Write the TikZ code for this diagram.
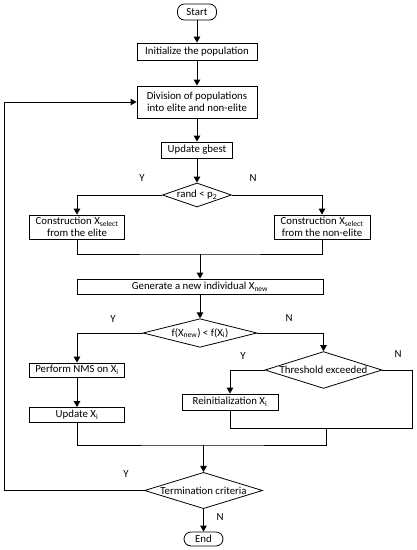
\documentclass[tikz,border=0pt]{standalone}
\usepackage{fontspec}
\setmainfont{Carlito}
\usetikzlibrary{shapes.geometric,arrows.meta}
\begin{document}
\begin{tikzpicture}[x=1pt,y=-1pt,line width=0.9pt,
  txt/.style={font=\fontsize{10.8}{12.5}\selectfont},
  box/.style={txt,draw,rectangle,inner sep=0pt,align=center,line width=0.8pt},
  term/.style={box,rounded corners=7pt},
  dia/.style={txt,draw,diamond,inner sep=0pt,aspect=3,line width=0.8pt},
  arr/.style={-{Triangle[length=6pt,width=6.5pt]}},
  lbl/.style={txt}]
\useasboundingbox (0,0) rectangle (417,550);
\node[term,minimum width=39,minimum height=16] (start) at (197,12) {Start};
\node[box,minimum width=120,minimum height=17] (init) at (197,51.5) {Initialize the population};
\node[box,minimum width=120,minimum height=32] (div) at (197,102) {Division of populations\\into elite and non-elite};
\node[box,minimum width=71,minimum height=16] (gb) at (197,150) {Update gbest};
\node[dia,minimum width=69,minimum height=24] (rand) at (197,195) {rand < p\textsubscript{2}};
\node[box,minimum width=95,minimum height=24] (cl) at (77,227) {Construction X\textsubscript{select}\\from the elite};
\node[box,minimum width=96,minimum height=24] (cr) at (322,227) {Construction X\textsubscript{select}\\from the non-elite};
\coordinate (m1) at (200,254);
\node[box,minimum width=246,minimum height=15] (gen) at (200,286.5) {Generate a new individual X\textsubscript{new}};
\node[dia,minimum width=114,minimum height=24] (fx) at (200,333) {f(X\textsubscript{new}) < f(X\textsubscript{i})};
\node[box,minimum width=95,minimum height=14] (nms) at (77,370) {Perform NMS on X\textsubscript{i}};
\node[box,minimum width=95,minimum height=15] (upd) at (77,415) {Update X\textsubscript{i}};
\node[dia,minimum width=117,minimum height=34] (thr) at (323.5,370) {Threshold exceeded};
\node[box,minimum width=96,minimum height=16] (re) at (230,402) {Reinitialization X\textsubscript{i}};
\coordinate (rc) at (412,428);
\coordinate (m2) at (326,428);
\coordinate (m3) at (203.5,445);
\node[dia,minimum width=118,minimum height=33] (tc) at (203.5,490.5) {Termination criteria};
\node[term,minimum width=39,minimum height=14] (end) at (203.5,539) {End};
\coordinate (lp) at (4,490.5);
% labels
\node[lbl] (y1) at (142,178) {Y};
\node[lbl] (n1) at (253,178) {N};
\node[lbl] (y2) at (113,319) {Y};
\node[lbl] (n2) at (289,318) {N};
\node[lbl] (y3) at (243,356) {Y};
\node[lbl] (n3) at (398,354) {N};
\node[lbl] (y4) at (126,474) {Y};
\node[lbl] (n4) at (220,517) {N};
% connectors
\draw[arr] (start) -- (init);
\draw[arr] (init) -- (div);
\draw[arr] (div) -- (gb);
\draw[arr] (gb) -- (rand);
\draw[arr] (rand.west) -| (cl.north);
\draw[arr] (rand.east) -| (cr.north);
\draw (cl.south) |- (m1) -| (cr.south);
\draw[arr] (m1) -- (gen.north);
\draw[arr] (gen) -- (fx);
\draw[arr] (fx.west) -| (nms.north);
\draw[arr] (fx.east) -| (thr.north);
\draw[arr] (nms) -- (upd);
\draw[arr] (thr.west) -| (re.north);
\draw (re.south) |- (rc) |- (thr.east);
\draw (upd.south) |- (m3) -| (m2);
\draw[arr] (m3) -- (tc.north);
\draw[arr] (tc.west) -- (lp) |- (div.west);
\draw[arr] (tc) -- (end);
\end{tikzpicture}
\end{document}
